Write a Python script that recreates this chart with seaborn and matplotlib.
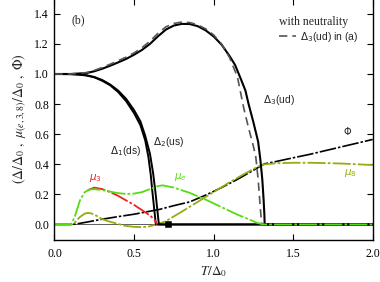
import matplotlib
matplotlib.use("Agg")
import matplotlib.pyplot as plt
import seaborn as sns
import numpy as np

# ---- data ----
d3_T = [0, 0.1, 0.2, 0.25, 0.3, 0.35, 0.4, 0.45, 0.5, 0.55, 0.6, 0.65, 0.7, 0.75, 0.8, 0.85,
        0.9, 0.95, 1.0, 1.05, 1.1, 1.135, 1.17, 1.2, 1.22, 1.25, 1.28, 1.295, 1.306, 1.314,
        1.319, 1.321, 2.0]
d3_v = [1.0, 1.0, 1.006, 1.018, 1.035, 1.055, 1.077, 1.1, 1.128, 1.16, 1.2, 1.25, 1.295, 1.322,
        1.333, 1.332, 1.318, 1.29, 1.25, 1.195, 1.12, 1.06, 0.97, 0.89, 0.8, 0.68, 0.55, 0.42,
        0.30, 0.17, 0.07, 0.0, 0.0]

d3a_T = [0, 0.1, 0.2, 0.25, 0.3, 0.35, 0.4, 0.45, 0.5, 0.55, 0.6, 0.65, 0.7, 0.75, 0.8, 0.85,
         0.9, 0.95, 1.0, 1.05, 1.1, 1.15, 1.188, 1.22, 1.25, 1.265, 1.28, 1.29, 1.298, 1.302]
d3a_v = [1.0, 1.0, 1.009, 1.024, 1.043, 1.065, 1.088, 1.112, 1.14, 1.175, 1.218, 1.27, 1.313,
         1.336, 1.345, 1.342, 1.327, 1.30, 1.26, 1.2, 1.11, 0.98, 0.78, 0.64, 0.52, 0.45, 0.30,
         0.16, 0.05, 0.0]

d1_T = [0, 0.1, 0.15, 0.2, 0.25, 0.3, 0.35, 0.4, 0.45, 0.5, 0.54, 0.57, 0.59, 0.605, 0.615,
        0.625, 0.632, 0.637, 2.0]
d1_v = [1.0, 0.999, 0.996, 0.99, 0.978, 0.955, 0.925, 0.88, 0.82, 0.74, 0.66, 0.56, 0.45, 0.33,
        0.22, 0.12, 0.05, 0.0, 0.0]

d2_T = [0, 0.1, 0.15, 0.2, 0.25, 0.3, 0.35, 0.4, 0.45, 0.5, 0.54, 0.57, 0.6, 0.62, 0.635,
        0.645, 0.652, 0.656, 2.0]
d2_v = [1.0, 0.999, 0.997, 0.992, 0.98, 0.96, 0.93, 0.89, 0.835, 0.76, 0.685, 0.59, 0.47, 0.34,
        0.21, 0.11, 0.04, 0.0, 0.0]

mue_T = [0, 0.1, 0.11, 0.13, 0.16, 0.19, 0.22, 0.25, 0.3, 0.35, 0.4, 0.45, 0.5, 0.55, 0.6,
         0.65, 0.68, 0.75, 0.85, 0.95, 1.05, 1.15, 1.22, 1.27, 1.3, 1.32, 1.5, 2.0]
mue_v = [0, 0, 0.01, 0.06, 0.16, 0.215, 0.232, 0.235, 0.228, 0.218, 0.208, 0.203, 0.205, 0.215,
         0.235, 0.255, 0.26, 0.245, 0.21, 0.165, 0.115, 0.065, 0.035, 0.012, 0.003, 0, 0, 0]

mu3_T = [0.21, 0.25, 0.3, 0.35, 0.4, 0.45, 0.5, 0.55, 0.6, 0.63, 0.645]
mu3_v = [0.228, 0.245, 0.235, 0.215, 0.19, 0.16, 0.13, 0.095, 0.06, 0.03, 0.0]

mu8_T = [0, 0.11, 0.13, 0.16, 0.19, 0.21, 0.23, 0.26, 0.3, 0.35, 0.4, 0.45, 0.5, 0.55, 0.6,
         0.64, 0.68, 0.7, 0.8, 0.9, 1.0, 1.1, 1.2, 1.28, 1.32, 1.4, 1.5, 1.6, 1.7, 1.8, 1.9, 2.0]
mu8_v = [0, 0, 0.015, 0.05, 0.072, 0.077, 0.074, 0.06, 0.035, 0.018, 0.003, -0.01, -0.016,
         -0.018, -0.012, 0.0, 0.013, 0.022, 0.085, 0.15, 0.215, 0.28, 0.34, 0.385, 0.4, 0.407,
         0.41, 0.41, 0.408, 0.405, 0.4, 0.395]

phi_T = [0, 0.1, 0.13, 0.2, 0.3, 0.4, 0.5, 0.6, 0.66, 0.75, 0.85, 0.95, 1.05, 1.15, 1.25, 1.32,
         1.4, 1.5, 1.6, 1.7, 1.8, 1.9, 2.0]
phi_v = [0, 0, 0.002, 0.015, 0.035, 0.052, 0.068, 0.088, 0.1, 0.125, 0.15, 0.195, 0.245, 0.3,
         0.36, 0.403, 0.42, 0.443, 0.465, 0.49, 0.515, 0.54, 0.565]

crit_T = [0.715]
crit_v = [0.0]

x_ticks = [0.0, 0.5, 1.0, 1.5, 2.0]
y_ticks = [0.0, 0.2, 0.4, 0.6, 0.8, 1.0, 1.2, 1.4]

# ---- style ----
sns.set_theme(style="ticks")
plt.rcParams["font.family"] = ["Liberation Serif", "DejaVu Serif"]
plt.rcParams["xtick.direction"] = "in"
plt.rcParams["ytick.direction"] = "in"

fig = plt.figure(figsize=(3.8, 2.82), dpi=100)
ax = fig.add_axes([0.1434, 0.1507, 0.8374, 0.8537])

GREEN = "#55dd11"
OLIVE = "#9aaa10"
RED = "#ee2222"
dd = (0, (10, 1.2, 1.5, 1.2))

sns.lineplot(x=[0, 2], y=[0, 0], ax=ax, color="#444444", lw=0.6, estimator=None)
sns.lineplot(x=phi_T, y=phi_v, ax=ax, color="black", lw=1.2, linestyle=dd, estimator=None)
sns.lineplot(x=mu8_T, y=mu8_v, ax=ax, color=OLIVE, lw=1.3, linestyle=dd, estimator=None)
sns.lineplot(x=d1_T, y=d1_v, ax=ax, color="black", lw=1.4, estimator=None)
sns.lineplot(x=d2_T, y=d2_v, ax=ax, color="black", lw=1.4, estimator=None)
sns.lineplot(x=d3_T, y=d3_v, ax=ax, color="black", lw=1.5, estimator=None)
sns.lineplot(x=d3a_T, y=d3a_v, ax=ax, color="#555555", lw=1.2, linestyle=(0, (5, 3)),
             estimator=None, label=r"$\Delta_3$(ud) in (a)")
sns.lineplot(x=mu3_T, y=mu3_v, ax=ax, color=RED, lw=1.3, linestyle=dd, estimator=None)
sns.lineplot(x=mue_T, y=mue_v, ax=ax, color=GREEN, lw=1.3, linestyle=dd, estimator=None)
sns.scatterplot(x=crit_T, y=crit_v, ax=ax, marker="s", color="black", s=24, zorder=5,
                edgecolor="black")

ax.set_xlim(0, 2.0)
ax.set_ylim(-0.1, 1.5)
ax.set_xticks(x_ticks)
ax.set_xticklabels([f"{t:.1f}" for t in x_ticks])
ax.set_yticks(y_ticks)
ax.set_yticklabels([f"{t:.1f}" for t in y_ticks])
ax.tick_params(axis="both", which="both", top=True, right=True, length=4, width=0.8,
               labelsize=8.5, colors="black", pad=4)
ax.tick_params(axis="x", pad=6)
for s in ax.spines.values():
    s.set_linewidth(1.0)
    s.set_color("black")

ax.set_xlabel(r"$T/\Delta_0$", fontsize=9.5, math_fontfamily="stix", labelpad=3)
ax.set_ylabel(r"$(\Delta/\Delta_0\ ,\ \mu_{(e,3,8)}/\Delta_0\ ,\ \Phi)$", fontsize=10,
              math_fontfamily="stix", labelpad=4)

sans = dict(family=["Liberation Sans", "DejaVu Sans"], math_fontfamily="dejavusans")
ax.text(0.11, 1.36, "(b)", fontsize=8.5, va="center", ha="left")
ax.text(1.312, 0.83, r"$\Delta_3$(ud)", fontsize=7.5, va="center", ha="left", **sans)
ax.text(0.45, 0.49, r"$\Delta_1$(ds)", fontsize=7.5, va="center", ha="center", **sans)
ax.text(0.62, 0.55, r"$\Delta_2$(us)", fontsize=7.5, va="center", ha="left", **sans)
ax.text(1.84, 0.62, r"$\Phi$", fontsize=7, va="center", ha="center", **sans)
ax.text(1.86, 0.34, r"$\mu_8$", fontsize=7.5, va="center", ha="center", color=OLIVE, **sans)
ax.text(0.79, 0.315, r"$\mu_e$", fontsize=7.5, va="center", ha="center", color=GREEN, **sans)
ax.text(0.255, 0.31, r"$\mu_3$", fontsize=7.5, va="center", ha="center", color=RED, **sans)

leg = ax.legend(loc="upper right", bbox_to_anchor=(0.975, 0.955), frameon=False,
                title="with neutrality", title_fontsize=8.5, fontsize=7.5,
                handlelength=1.6, handletextpad=0.4, borderaxespad=0.2,
                alignment="left", labelspacing=0.2)
for t in leg.get_texts():
    t.set_family(["Liberation Sans", "DejaVu Sans"])
    t.set_math_fontfamily("dejavusans")

fig.savefig("out.png", dpi=100)
